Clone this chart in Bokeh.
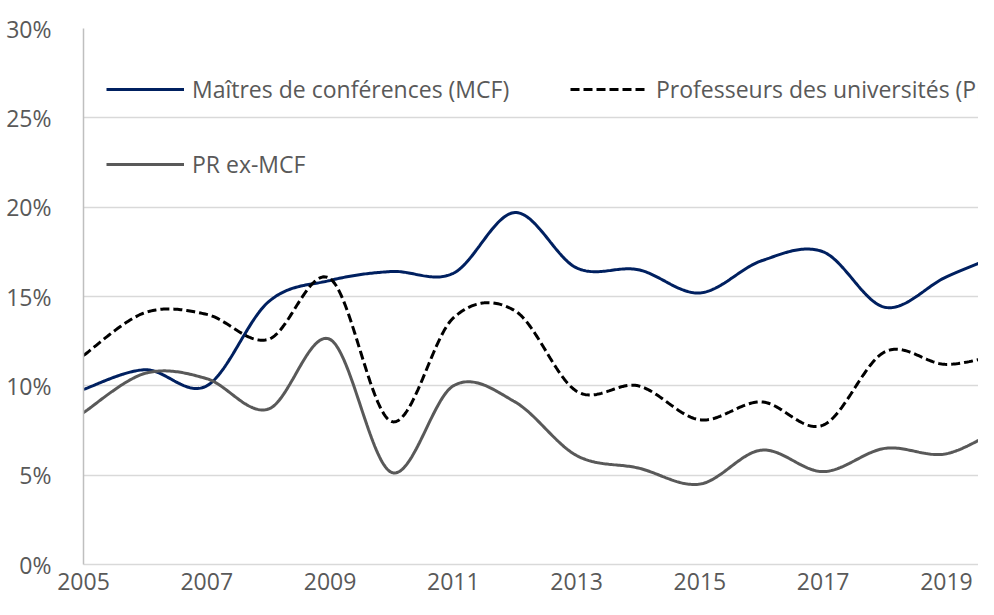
import numpy as np
from bokeh.plotting import figure
from bokeh.models import Range1d, FixedTicker, PrintfTickFormatter, Legend, LegendItem
from bokeh.embed import file_html
from bokeh.resources import INLINE

# ---- data (percent) ----
years = list(range(2005, 2021))
mcf = [9.8, 10.9, 10.0, 14.7, 15.9, 16.4, 16.3, 19.7, 16.6, 16.5, 15.2, 17.0, 17.5, 14.4, 16.1, 17.5]
pr = [11.7, 14.1, 14.0, 12.6, 16.0, 8.0, 13.8, 14.2, 9.7, 10.0, 8.1, 9.1, 7.8, 11.9, 11.2, 11.9]
pr_ex_mcf = [8.5, 10.7, 10.4, 8.7, 12.6, 5.15, 10.0, 9.1, 6.1, 5.4, 4.5, 6.4, 5.2, 6.5, 6.2, 7.9]
series_names = ["Maîtres de conférences (MCF)", "Professeurs des universités (PR)", "PR ex-MCF"]
x_ticks = [2005, 2007, 2009, 2011, 2013, 2015, 2017, 2019]
y_ticks = [0, 5, 10, 15, 20, 25, 30]


def smooth(xs, ys, n=40):
    P = np.column_stack([np.asarray(xs, float), np.asarray(ys, float)])
    out = []
    m = len(P)
    for i in range(m - 1):
        p0 = P[i - 1] if i > 0 else P[i]
        p1 = P[i]
        p2 = P[i + 1]
        p3 = P[i + 2] if i + 2 < m else P[i + 1]
        c1 = p1 + (p2 - p0) / 6.0
        c2 = p2 - (p3 - p1) / 6.0
        t = np.linspace(0, 1, n, endpoint=(i == m - 2))[:, None]
        b = ((1 - t) ** 3) * p1 + 3 * ((1 - t) ** 2) * t * c1 + 3 * (1 - t) * t ** 2 * c2 + t ** 3 * p2
        out.append(b)
    arr = np.vstack(out)
    return arr[:, 0], arr[:, 1]


FONT = "Open Sans"
TXT = "#595959"

p = figure(width=978, height=599, output_backend="svg", toolbar_location=None,
           x_range=Range1d(2005, 2019.52), y_range=Range1d(0, 30),
           min_border_left=83, min_border_right=0, min_border_top=28, min_border_bottom=35)
p.outline_line_color = None
p.background_fill_color = "white"

p.xgrid.grid_line_color = None
p.ygrid.grid_line_color = "#d9d9d9"
p.ygrid.grid_line_width = 1.5
p.ygrid.ticker = FixedTicker(ticks=y_ticks)

p.yaxis.ticker = FixedTicker(ticks=y_ticks)
p.yaxis.formatter = PrintfTickFormatter(format="%d%%")
p.xaxis.ticker = FixedTicker(ticks=x_ticks)
for ax in (p.xaxis, p.yaxis):
    ax.axis_line_width = 1.5
    ax.major_tick_line_color = None
    ax.minor_tick_line_color = None
    ax.major_label_text_font = FONT
    ax.major_label_text_font_size = "23px"
    ax.major_label_text_color = TXT
p.yaxis.axis_line_color = "#bfbfbf"
p.xaxis.axis_line_color = "#d9d9d9"
p.yaxis.major_label_standoff = 26
p.xaxis.major_label_standoff = 2

xs, ys = smooth(years, mcf)
r1 = p.line(xs, ys, line_color="#002060", line_width=3)
xs, ys = smooth(years, pr)
r2 = p.line(xs, ys, line_color="#000000", line_width=3, line_dash="9 4")
xs, ys = smooth(years, pr_ex_mcf)
r3 = p.line(xs, ys, line_color="#595959", line_width=3)

legend = Legend(items=[LegendItem(label=series_names[0], renderers=[r1]),
                       LegendItem(label=series_names[1], renderers=[r2]),
                       LegendItem(label=series_names[2], renderers=[r3])],
                orientation="horizontal", ncols=2,
                location=(23, 384),
                label_text_font=FONT, label_text_font_size="23px", label_text_color=TXT,
                glyph_width=78, glyph_height=24, label_height=24, label_standoff=8,
                label_width=335, spacing=43, padding=0, margin=0,
                border_line_alpha=0, background_fill_alpha=0)
p.add_layout(legend)

open("out.html", "w").write(file_html(p, INLINE))
